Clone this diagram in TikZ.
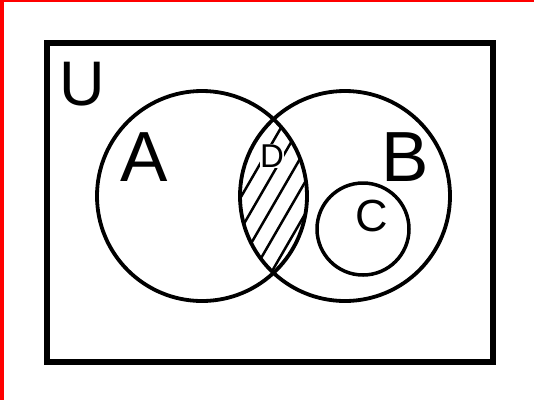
\documentclass[tikz,border=0pt]{standalone}
\usepackage{fontspec}
\setmainfont{Liberation Sans}
\begin{document}
\begin{tikzpicture}[x=1pt, y=-1pt, line join=round, line cap=round]
\useasboundingbox (0,0) rectangle (534,400);
\fill[red] (0,0) rectangle (3.5,400);
\fill[red] (0,0) rectangle (534,1.5);

\coordinate (A) at (202,196);
\coordinate (B) at (345,196);
\coordinate (C) at (363,229);

% shaded part A and B
\begin{scope}
\clip (A) circle (105);
\clip (B) circle (105);
\foreach \k in {-4,...,4}
  \draw[line width=2.5pt] (260+18.5*\k-70, 196+121) -- ++(140,-242);
\end{scope}
\node[fill=white, inner sep=0.5pt, font=\fontsize{33}{33}\selectfont] (d) at (272,156) {D};

\draw[line width=6pt, line cap=butt, line join=miter] (47,43) rectangle (493,362);
\draw[line width=3.8pt] (A) circle (105);
\draw[line width=3.8pt] (B) circle (105);
\draw[line width=3.5pt] (C) circle (46);

\node[inner sep=0pt, font=\fontsize{63}{63}\selectfont] (u) at (82.5,84.5) {U};
\node[inner sep=0pt, font=\fontsize{71}{71}\selectfont] (a) at (144,157.5) {A};
\node[inner sep=0pt, font=\fontsize{71}{71}\selectfont] (b) at (405,157) {B};
\node[inner sep=0pt, font=\fontsize{45}{45}\selectfont] (c) at (371.5,216) {C};
\end{tikzpicture}
\end{document}
